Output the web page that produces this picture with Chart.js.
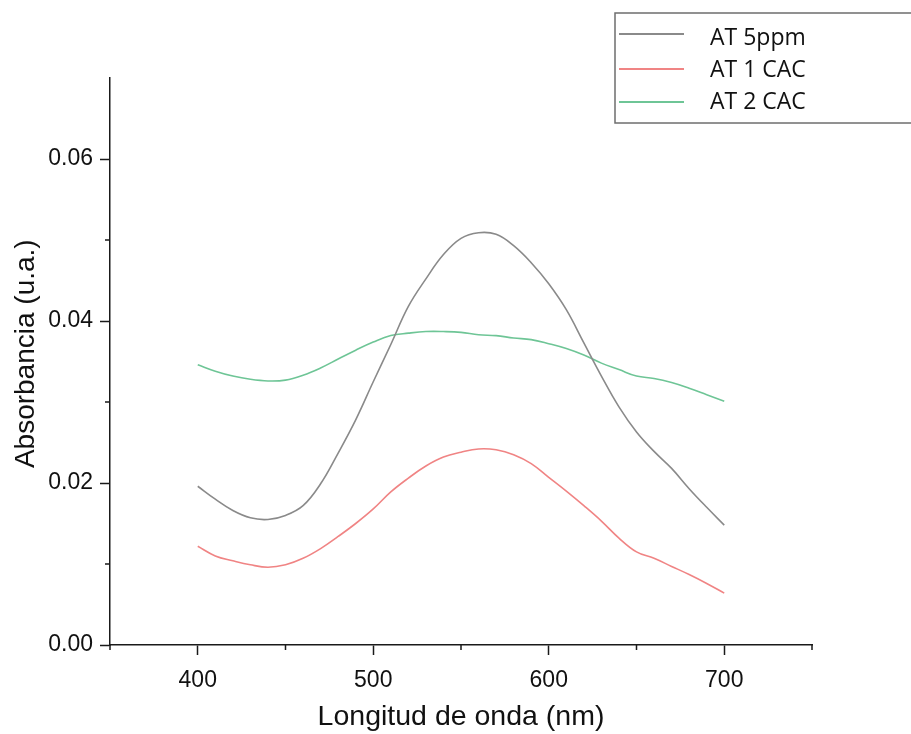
<!DOCTYPE html>
<html>
<head>
<meta charset="utf-8">
<script src="https://cdn.jsdelivr.net/npm/chart.js@4/dist/chart.umd.min.js"></script>
<style>
  html, body { margin: 0; padding: 0; background: #ffffff; }
  #wrap { width: 911px; height: 734px; position: relative; }
</style>
</head>
<body>
<div id="wrap"><canvas id="c" width="911" height="734"></canvas></div>
<script>
// ---- data ----
const wavelengths = [400,410,420,430,440,450,460,470,480,490,500,510,520,530,540,550,560,570,580,590,600,610,620,630,640,650,660,670,680,690,700];
const seriesLabels = ['AT 5ppm', 'AT 1 CAC', 'AT 2 CAC'];
const at5ppm = [0.0196,0.0180,0.0166,0.0157,0.0155,0.0160,0.0172,0.0199,0.0237,0.0278,0.0325,0.0371,0.0418,0.0452,0.0482,0.0502,0.0509,0.0507,0.0493,0.0472,0.0446,0.0414,0.0373,0.0332,0.0294,0.0263,0.0239,0.0218,0.0193,0.0170,0.0148];
const at1cac = [0.0122,0.0110,0.0104,0.0099,0.0096,0.0099,0.0107,0.0119,0.0134,0.0150,0.0168,0.0189,0.0206,0.0221,0.0232,0.0238,0.0242,0.0241,0.0235,0.0224,0.0207,0.0190,0.0172,0.0153,0.0132,0.0115,0.0107,0.0097,0.0087,0.0076,0.0064];
const at2cac = [0.0346,0.0338,0.0332,0.0328,0.0326,0.0327,0.0333,0.0342,0.0353,0.0364,0.0374,0.0382,0.0385,0.0387,0.0387,0.0386,0.0383,0.0382,0.0379,0.0377,0.0372,0.0366,0.0358,0.0348,0.0340,0.0332,0.0329,0.0324,0.0317,0.0309,0.0301];
const xMajorTicks = [400, 500, 600, 700];
const xMinorTicks = [350, 450, 550, 650, 750];
const yMajorTicks = [0, 0.02, 0.04, 0.06];
const yMinorTicks = [0.01, 0.03, 0.05];
const colors = ['#8a8a8a', '#f08484', '#6ec596'];

const toPoints = arr => arr.map((v, i) => ({ x: wavelengths[i], y: v }));
const allSeries = [at5ppm, at1cac, at2cac];

const minorTicksPlugin = {
  id: 'minorTicks',
  afterDraw(chart) {
    const ctx = chart.ctx, xs = chart.scales.x, ys = chart.scales.y;
    const ca = chart.chartArea;
    ctx.save();
    ctx.strokeStyle = '#1a1a1a';
    ctx.lineWidth = 1.5;
    ctx.beginPath();
    xMinorTicks.forEach(v => {
      const px = xs.getPixelForValue(v);
      ctx.moveTo(px, ca.bottom);
      ctx.lineTo(px, ca.bottom + 5);
    });
    yMinorTicks.forEach(v => {
      const py = ys.getPixelForValue(v);
      ctx.moveTo(ca.left, py);
      ctx.lineTo(ca.left - 5, py);
    });
    ctx.stroke();
    ctx.restore();
  }
};

const legendBoxPlugin = {
  id: 'legendBox',
  afterDraw(chart) {
    const ctx = chart.ctx;
    ctx.save();
    ctx.strokeStyle = '#6e6e6e';
    ctx.lineWidth = 1.5;
    ctx.strokeRect(615, 13, 320, 110);
    const lineYs = [34, 69, 102];
    const textYs = [45, 77, 109];
    ctx.font = '23px "Open Sans", sans-serif';
    ctx.textBaseline = 'alphabetic';
    ctx.textAlign = 'left';
    chart.data.datasets.forEach((ds, i) => {
      ctx.strokeStyle = ds.borderColor;
      ctx.lineWidth = 2;
      ctx.beginPath();
      ctx.moveTo(619, lineYs[i]);
      ctx.lineTo(684, lineYs[i]);
      ctx.stroke();
      ctx.fillStyle = '#111111';
      ctx.fillText(ds.label, 710, textYs[i]);
    });
    ctx.restore();
  }
};

new Chart(document.getElementById('c'), {
  type: 'line',
  data: {
    datasets: allSeries.map((arr, i) => ({
      label: seriesLabels[i],
      data: toPoints(arr),
      borderColor: colors[i],
      backgroundColor: colors[i],
      borderWidth: 1.6,
      pointRadius: 0,
      fill: false,
      tension: 0.4
    }))
  },
  options: {
    responsive: false,
    animation: false,
    devicePixelRatio: 1,
    layout: { padding: { left: 0, right: 99, top: 78, bottom: 0 } },
    plugins: { legend: { display: false }, tooltip: { enabled: false } },
    scales: {
      x: {
        type: 'linear',
        min: 350, max: 750,
        afterBuildTicks: s => { s.ticks = xMajorTicks.map(v => ({ value: v })); },
        afterFit: s => { s.height = 89; },
        border: { display: true, color: '#1a1a1a', width: 1.5 },
        grid: { display: true, drawOnChartArea: false, drawTicks: true, tickLength: 10, tickColor: '#1a1a1a', tickWidth: 1.5 },
        ticks: { color: '#111', padding: 12, maxRotation: 0, font: { family: '"Liberation Sans", Arial, sans-serif', size: 23, lineHeight: 1.2 } },
        title: { display: true, text: 'Longitud de onda (nm)', color: '#111', padding: { top: 0, bottom: 0 }, font: { family: '"Liberation Sans", Arial, sans-serif', size: 28.5, lineHeight: 1.2 } }
      },
      y: {
        type: 'linear',
        min: 0, max: 0.07,
        afterBuildTicks: s => { s.ticks = yMajorTicks.map(v => ({ value: v })); },
        afterFit: s => { s.width = 110; },
        border: { display: true, color: '#1a1a1a', width: 1.5 },
        grid: { display: true, drawOnChartArea: false, drawTicks: true, tickLength: 10, tickColor: '#1a1a1a', tickWidth: 1.5 },
        ticks: { color: '#111', padding: 7, callback: v => Number(v).toFixed(2), font: { family: '"Liberation Sans", Arial, sans-serif', size: 23, lineHeight: 1.2 } },
        title: { display: true, text: '  Absorbancia (u.a.)', color: '#111', padding: { top: 9, bottom: 0 }, font: { family: '"Liberation Sans", Arial, sans-serif', size: 28, lineHeight: 1.2 } }
      }
    }
  },
  plugins: [minorTicksPlugin, legendBoxPlugin]
});
</script>
</body>
</html>
